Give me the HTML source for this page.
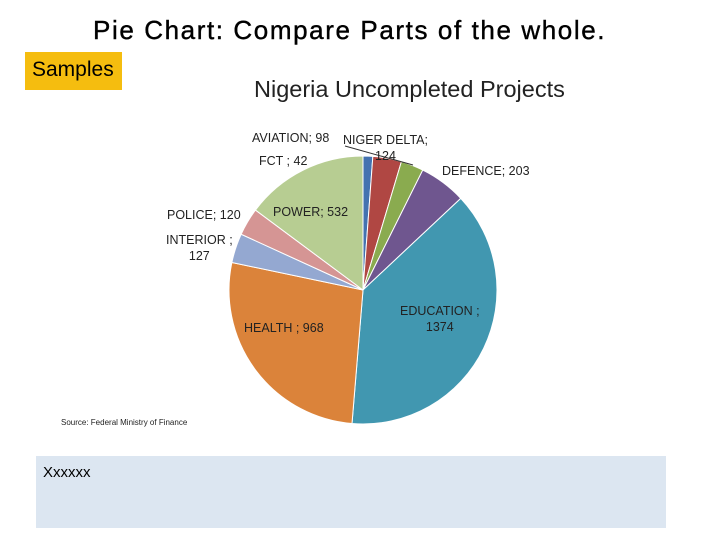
<!DOCTYPE html>
<html><head><meta charset="utf-8"><style>
body{margin:0;width:720px;height:540px;background:#fff;position:relative;overflow:hidden;font-family:"Liberation Sans",sans-serif}
.a{position:absolute;white-space:nowrap}
.lbl{position:absolute;font-size:12.5px;color:#222;white-space:nowrap;text-align:center;line-height:16px}
</style></head><body>
<div class="a" style="left:93px;top:15px;font-size:26px;color:#000;letter-spacing:1.6px;-webkit-text-stroke:0.4px #000">Pie Chart: Compare Parts of the whole.</div>
<div class="a" style="left:25px;top:52px;width:97px;height:38px;background:#f5bd0f"><span style="position:absolute;left:7px;top:6px;font-size:21px">Samples</span></div>
<div class="a" style="left:254px;top:76px;font-size:23.5px;color:#222">Nigeria Uncompleted Projects</div>
<svg id="pie" width="720" height="540" style="position:absolute;left:0;top:0"></svg>
<div class="lbl" style="left:252px;top:130px">AVIATION; 98</div>
<div class="lbl" style="left:343px;top:132px">NIGER DELTA;<br>124</div>
<div class="lbl" style="left:259px;top:153px">FCT ; 42</div>
<div class="lbl" style="left:442px;top:163px">DEFENCE; 203</div>
<div class="lbl" style="left:167px;top:207px">POLICE; 120</div>
<div class="lbl" style="left:273px;top:204px">POWER; 532</div>
<div class="lbl" style="left:166px;top:232px">INTERIOR ;<br>127</div>
<div class="lbl" style="left:244px;top:320px">HEALTH ; 968</div>
<div class="lbl" style="left:400px;top:303px">EDUCATION ;<br>1374</div>
<div class="a" style="left:61px;top:418px;font-size:8px;color:#222">Source: Federal Ministry of Finance</div>
<div class="a" style="left:36px;top:456px;width:630px;height:72px;background:#dce6f1"><span style="position:absolute;left:7px;top:8px;font-size:15px">Xxxxxx</span></div>
<script>
const categories=["FCT","NIGER DELTA","AVIATION","DEFENCE","EDUCATION","HEALTH","INTERIOR","POLICE","POWER"];
const values=[42,124,98,203,1374,968,127,120,532];
const colors=["#4472b0","#b04743","#8aab4f","#6f568f","#4197b0","#db833a","#94a8d1","#d59594","#b7cd92"];
const cx=363,cy=290,r=134;
const svg=document.getElementById('pie');
const total=values.reduce((a,b)=>a+b,0);
let ang=0;
values.forEach((v,i)=>{
  const a0=ang,a1=ang+v/total*2*Math.PI;ang=a1;
  const x0=cx+r*Math.sin(a0),y0=cy-r*Math.cos(a0),x1=cx+r*Math.sin(a1),y1=cy-r*Math.cos(a1);
  const p=document.createElementNS('http://www.w3.org/2000/svg','path');
  p.setAttribute('d',`M${cx},${cy}L${x0},${y0}A${r},${r} 0 ${a1-a0>Math.PI?1:0} 1 ${x1},${y1}Z`);
  p.setAttribute('fill',colors[i]);p.setAttribute('stroke','#fff');p.setAttribute('stroke-width','1');
  
  
  svg.appendChild(p);
});
const l=document.createElementNS('http://www.w3.org/2000/svg','line');
l.setAttribute('x1',345);l.setAttribute('y1',146);l.setAttribute('x2',413);l.setAttribute('y2',165);l.setAttribute('stroke','#333');


svg.appendChild(l);
</script>
</body></html>
